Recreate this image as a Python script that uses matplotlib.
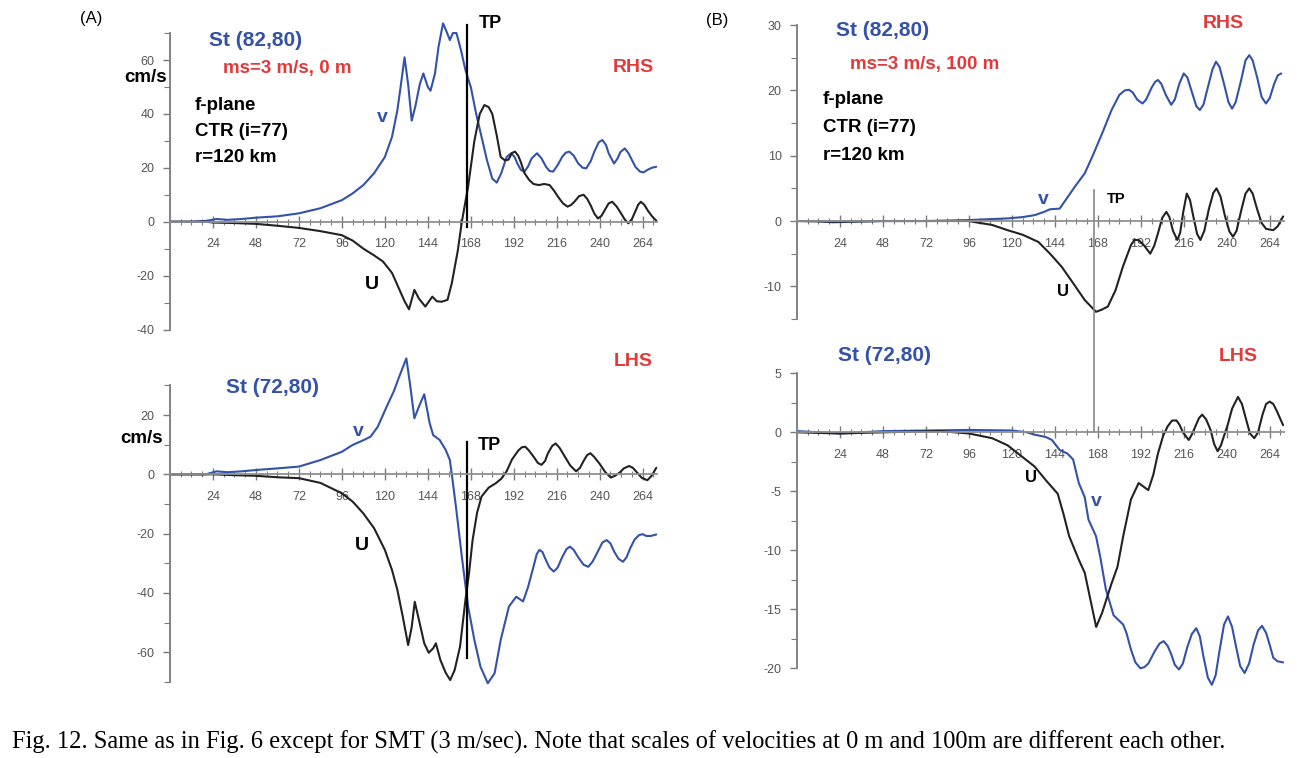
import matplotlib
matplotlib.use("Agg")
import matplotlib.pyplot as plt
from matplotlib.ticker import FixedLocator

plt.rcParams['font.family'] = ['Liberation Sans', 'DejaVu Sans']
plt.rcParams['axes.unicode_minus'] = False

# ---- data (hours, cm/s) ----
# (A) 0 m, RHS  St(82,80)
a_rhs_v_t = [0, 12, 20, 26, 32, 40, 48, 60, 72, 84, 96, 102, 108, 114, 120, 124, 127, 129, 131, 133,
             135, 137, 139.5, 141.5, 144, 145.5, 148, 150, 152.5, 154.5, 156.3, 158, 160, 162.5, 165,
             168, 171, 174, 177, 180, 182.5, 185, 188, 190.5, 192.5, 194, 196, 198, 200, 202, 205,
             207.5, 210, 212, 214, 216.5, 219, 221, 223, 225.5, 228, 230.5, 232.5, 235, 237, 239.5,
             241.5, 243.5, 245, 248, 250, 251.5, 254, 256, 258, 260, 262.5, 264.5, 266.6, 269, 271.6]
a_rhs_v = [0, 0, 0.3, 1, 0.7, 1, 1.5, 2, 3.1, 5, 8, 10.5, 13.6, 18, 24, 31.5, 41.4, 51, 61, 51,
           37.5, 42.7, 51, 55, 50, 48.6, 55, 65, 73.6, 70.5, 67.4, 70, 70, 63.7, 56.3,
           50, 40, 31.5, 22.9, 16, 14.5, 18, 24, 25.4, 24, 21.6, 19.2, 18.6, 20.5, 23.5, 25.4,
           23.5, 20.4, 18.8, 18.6, 21, 24, 25.6, 26, 24.5, 21.6, 20, 19.8, 22.5, 26, 29.5,
           30.3, 28.5, 25.4, 21.6, 23.5, 25.8, 27.2, 25.5, 22.9, 20.3, 18.6, 18.3, 19.2, 20, 20.4]
a_rhs_u_t = [0, 20, 24, 36, 48, 60, 72, 84, 96, 102, 108, 114, 119, 124, 128, 131, 133.5, 136.5, 139,
             142.6, 146.5, 149, 151.7, 155, 157.4, 160.8, 163, 166.5, 170, 173, 175.6, 178, 180,
             182.5, 184.7, 187, 189, 191, 192.7, 194.5, 196, 198, 200.6, 203, 206, 209, 212, 214.5,
             217, 219.5, 222, 224, 226, 228.5, 231, 233, 235, 237, 239, 241, 243, 245, 247, 249.5,
             252, 254, 256, 258, 260, 261.5, 263, 265, 267, 269.5, 271.6]
a_rhs_u = [0, 0, -0.3, -0.5, -0.8, -1.5, -2.3, -3.5, -5, -7, -10, -12.5, -14.8, -19, -25, -29.5, -32.5,
           -25.3, -28.5, -31.5, -27.8, -29.5, -29.7, -29, -22.8, -10.5, 0, 13, 30, 40, 43.3, 42.5,
           40, 32, 24, 22.8, 23, 25.5, 26, 24.5, 22, 18, 15.5, 14, 13.6, 14, 13.6, 11.5,
           9, 6.8, 5.6, 6.2, 7.5, 9.5, 10, 8.5, 6, 3, 1.2, 2.2, 4.5, 6.8, 7.4, 5.6,
           3, 0.8, -0.6, 1, 4, 6.3, 7.4, 6.2, 4, 1.8, 0.4]

# (A) 0 m, LHS  St(72,80)
a_lhs_v_t = [0, 20, 26, 32, 40, 48, 60, 72, 84, 96, 102, 108, 112, 116, 121, 125, 128, 132, 134,
             136.5, 139, 142, 145, 147, 150.6, 154, 156.3, 157.4, 159.7, 163, 166.5, 170, 173.4,
             177.5, 181.3, 184.7, 189.3, 193.4, 197.2, 200, 203, 204.8, 206.3, 208, 210, 212, 214.3,
             216.5, 219, 221.5, 223.4, 225.5, 228, 231, 233.6, 236, 239, 241.5, 243.9, 246, 248,
             250.5, 253, 255, 257, 259.5, 262, 264, 266, 268.5, 271.6]
a_lhs_v = [0, 0, 1, 0.7, 1, 1.45, 2, 2.6, 4.8, 7.6, 9.9, 11.5, 12.7, 16, 22.8, 28, 32.9, 39.1, 30.7,
           18.9, 22.8, 27, 17.3, 13.2, 11.6, 8.2, 4.8, 0, -10.9, -27.8, -44.6, -55.9, -64.9,
           -70.5, -67.1, -55.9, -44.6, -41.3, -42.9, -38, -31.2, -27, -25.5, -26.2, -29, -31.5, -32.8,
           -31.5, -28, -25.2, -24.4, -25.5, -28, -30.5, -31.2, -29.5, -26, -23, -22.2, -23.3, -26,
           -28.5, -29.5, -28, -25, -22, -20.5, -20.2, -20.8, -20.8, -20.3]
a_lhs_u_t = [0, 24, 36, 48, 60, 72, 84, 96, 102, 108, 114, 120, 124, 127, 130, 133, 135, 136.7, 139,
             142, 144.5, 147, 148.5, 151, 154, 156.5, 159, 162, 165, 167, 169, 171.5, 174, 178,
             182, 185, 188, 191, 194.5, 196.5, 198.4, 200.5, 203, 205.5, 207.5, 209.5, 211, 213.5,
             215.4, 217.5, 220, 223.5, 226.8, 229, 231, 233, 234.8, 237, 240, 243, 246.2, 248.5,
             251, 253.5, 256.4, 258.5, 261, 263.5, 266.6, 269, 271.6]
a_lhs_u = [0, 0, -0.3, -0.5, -1, -1.3, -2.9, -6.4, -9.2, -13.2, -18.2, -25.5, -32.3, -39, -48, -57.6,
           -51.5, -43, -49, -57, -60.2, -58.7, -57, -62.6, -67, -69.4, -66, -58.1, -42.4, -33.4,
           -22.2, -13, -7.5, -4.5, -3, -1.5, 1, 5, 8, 9.1, 9.3, 8, 6, 3.8, 3.2, 4.5, 7, 9.6,
           10.4, 9, 6.5, 3, 1, 2.2, 4.5, 6.5, 7.1, 5.8, 3.5, 0.8, -1.1, -0.5,
           0.5, 2, 2.8, 2.2, 0.5, -1.2, -2, -0.5, 2.2]

# (B) 100 m, RHS  St(82,80)
b_rhs_v_t = [0, 12, 20, 30, 48, 72, 96, 109, 117.6, 126, 132.7, 138, 141.3, 146.7, 150, 155.3, 160.7,
             165, 170.4, 175.7, 180, 183, 185.4, 187.5, 190, 193, 195, 198, 200, 201.6, 203.5, 206,
             209, 211, 213.5, 216, 218, 220.5, 223, 225, 227, 229.5, 232, 234, 236, 238.5, 241, 243,
             245, 248, 250.5, 252.6, 254.5, 257, 259.5, 261.9, 264, 266.5, 268.5, 270.5]
b_rhs_v = [0, 0, -0.2, -0.1, 0, 0, 0.15, 0.3, 0.4, 0.6, 0.9, 1.4, 1.8, 1.9, 3.2, 5.3, 7.3,
           9.9, 13.4, 17, 19.3, 20, 20.1, 19.7, 18.6, 18, 18.6, 20.4, 21.3, 21.6, 21, 19.3,
           17.8, 18.6, 21, 22.6, 22, 19.8, 17.6, 17, 17.8, 20.5, 23.2, 24.4, 23.6, 21, 18.2, 17.2,
           18.2, 21.5, 24.6, 25.4, 24.6, 22, 19, 18, 18.8, 21, 22.3, 22.6]
b_rhs_u_t = [0, 20, 48, 96, 100, 109, 117.6, 126, 134.8, 141.3, 147.8, 154.2, 160.7, 167, 170, 173.6,
             177.9, 182, 186.5, 188.5, 190.8, 194, 197.3, 199.5, 201.6, 204, 206.3, 208, 210, 212.4,
             214, 215.8, 217.7, 219.5, 221.5, 223.5, 225.3, 227.5, 230, 232.5, 234.3, 236.5, 239,
             241.5, 243.5, 245.5, 248, 250.5, 252.6, 254.5, 257, 259.5, 262, 266, 268.5, 271.5]
b_rhs_u = [0, -0.1, 0, 0, -0.2, -0.6, -1.4, -2.1, -3.2, -5, -7, -9.5, -12.1, -13.9, -13.6, -13.1,
           -10.6, -7, -3.7, -2.9, -2.9, -3.8, -5, -3.8, -1.9, 0.5, 1.4, 0.6, -1.5, -2.9,
           -1.8, 1.5, 4.2, 3.2, 0.5, -2, -2.9, -1.5, 1.8, 4.3, 5, 3.8, 0.8,
           -1.6, -2.4, -1.5, 1.5, 4.2, 5, 4.2, 1.8, -0.3, -1.2, -1.4, -0.8, 0.7]

# (B) 100 m, LHS  St(72,80)
b_lhs_v_t = [0, 24, 48, 96, 120, 128.4, 132.7, 139, 142.4, 146.7, 151, 154.2, 157.4, 160.7, 162.8,
             167, 169.3, 172.5, 176.8, 182.2, 184, 186.5, 189, 191.8, 194, 196.2, 200, 202.5, 204.8,
             207, 209, 211, 213.4, 215.5, 218, 220.5, 223, 225, 227, 229.5, 231.7, 233.8, 236,
             238.5, 240.7, 243, 245, 247.5, 250, 252.5, 255, 257.5, 259.7, 262, 264, 266, 268.3, 271.5]
b_lhs_v = [0.1, -0.1, 0.1, 0.2, 0.15, 0, -0.2, -0.4, -0.65, -1.5, -1.8, -2.3, -4.3, -5.5, -7.4,
           -8.8, -10.5, -13.3, -15.5, -16.3, -17, -18.4, -19.5, -20, -19.9, -19.6, -18.5, -17.9, -17.7,
           -18.1, -18.8, -19.7, -20.1, -19.6, -18.2, -17.1, -16.6, -17.3, -19, -20.8, -21.4, -20.6, -18.5,
           -16.3, -15.6, -16.5, -18, -19.8, -20.4, -19.6, -18, -16.8, -16.4, -17, -18, -19.1, -19.4, -19.5]
b_lhs_u_t = [0, 24, 48, 80, 96, 109, 117.6, 126, 132.7, 139.2, 145.6, 148.8, 152, 157.4, 160.7, 163.9,
             167.1, 170.4, 175.7, 179, 182.2, 186.5, 190.8, 193.5, 196.2, 199, 201.6, 204.5, 207,
             209.5, 212, 213.8, 215.5, 218.8, 220.5, 222.5, 224.5, 226.3, 228.5, 231, 233, 234.9,
             236.8, 238.5, 240.5, 243, 246.3, 248.5, 251, 253, 255.4, 257.5, 260, 262, 264, 266,
             268, 271.5]
b_lhs_u = [0, -0.1, 0, 0.1, -0.1, -0.5, -1.1, -2.1, -2.9, -4.1, -5.2, -6.9, -8.8, -10.8, -11.9, -14.2,
           -16.5, -15.3, -12.8, -11.4, -8.8, -5.7, -4.3, -4.6, -4.9, -3.6, -1.8, -0.3, 0.5,
           1, 1, 0.6, 0, -0.65, -0.2, 0.5, 1.2, 1.5, 1.1, 0.2, -1, -1.6,
           -1.1, -0.3, 0.6, 2, 3, 2.4, 1, -0.1, -0.5, 0, 1.5, 2.4, 2.6, 2.4,
           1.8, 0.6]

tp_hour = 166
x_major = [24, 48, 72, 96, 120, 144, 168, 192, 216, 240, 264]
caption = ("Fig. 12. Same as in Fig. 6 except for SMT (3 m/sec). Note that scales of velocities "
           "at 0 m and 100m are different each other.")

BLUE = '#3352a8'
RED = '#e23a3a'
GRAY = '#7a7a7a'
W, H = 1301, 758

fig = plt.figure(figsize=(W / 100, H / 100), dpi=100)


def make_ax(xl, xr, yt, yb, ylim, spine, major, minor):
    ax = fig.add_axes([xl / W, 1 - yb / H, (xr - xl) / W, (yb - yt) / H])
    ax.set_xlim(0, 272)
    ax.set_ylim(*ylim)
    ax.patch.set_alpha(0)
    for s in ['top', 'right']:
        ax.spines[s].set_visible(False)
    ax.spines['left'].set_bounds(*spine)
    ax.spines['left'].set_color(GRAY)
    ax.spines['left'].set_linewidth(1.3)
    ax.spines['bottom'].set_position(('data', 0))
    ax.spines['bottom'].set_bounds(0, 272)
    ax.spines['bottom'].set_color('#909090')
    ax.spines['bottom'].set_linewidth(1.3)
    ax.xaxis.set_major_locator(FixedLocator(x_major))
    ax.xaxis.set_minor_locator(FixedLocator(list(range(6, 272, 6))))
    ax.yaxis.set_major_locator(FixedLocator(major))
    ax.yaxis.set_minor_locator(FixedLocator(minor))
    ax.tick_params(axis='x', which='major', direction='inout', length=8, width=1,
                   color=GRAY, labelsize=9, labelcolor='#555555', pad=8)
    ax.tick_params(axis='x', which='minor', direction='inout', length=4, width=0.8, color=GRAY)
    ax.tick_params(axis='y', which='major', direction='out', length=5, width=1,
                   color=GRAY, labelsize=9, labelcolor='#555555', pad=6)
    ax.tick_params(axis='y', which='minor', direction='out', length=4, width=0.8, color=GRAY)
    return ax


axA1 = make_ax(170, 657, 11.5, 334.9, (-42, 78), (-40, 70),
               [-40, -20, 0, 20, 40, 60], [-30, -10, 10, 30, 50, 70])
axA2 = make_ax(170, 657, 349.8, 690.7, (-73, 42), (-70, 30),
               [-60, -40, -20, 0, 20], [-70, -50, -30, -10, 10, 30])
axB1 = make_ax(797, 1284, 18.6, 325.5, (-16, 31), (-15, 30),
               [-10, 0, 10, 20, 30], [-15, -5, 5, 15, 25])
axB2 = make_ax(797, 1284, 367.4, 691.9, (-22, 5.5), (-20, 5),
               [-20, -15, -10, -5, 0, 5], [-17.5, -12.5, -7.5, -2.5, 2.5])

line_kw = dict(lw=1.5, clip_on=False, solid_joinstyle='round', solid_capstyle='round')
axA1.plot(a_rhs_v_t, a_rhs_v, color=BLUE, **line_kw)
axA1.plot(a_rhs_u_t, a_rhs_u, color='#222222', **line_kw)
axA2.plot(a_lhs_v_t, a_lhs_v, color=BLUE, **line_kw)
axA2.plot(a_lhs_u_t, a_lhs_u, color='#222222', **line_kw)
axB1.plot(b_rhs_v_t, b_rhs_v, color=BLUE, **line_kw)
axB1.plot(b_rhs_u_t, b_rhs_u, color='#222222', **line_kw)
axB2.plot(b_lhs_v_t, b_lhs_v, color=BLUE, **line_kw)
axB2.plot(b_lhs_u_t, b_lhs_u, color='#222222', **line_kw)

# turning point lines
axA1.plot([tp_hour, tp_hour], [-2, 73], color='black', lw=1.6, clip_on=False)
axA2.plot([tp_hour, tp_hour], [-62, 10.9], color='black', lw=1.6, clip_on=False)
y_disp = axB2.transData.transform((tp_hour, 0))[1]
y_low = axB1.transData.inverted().transform((0, y_disp))[1]
axB1.plot([tp_hour, tp_hour], [y_low, 4.7], color='#888888', lw=1.2, clip_on=False)


def ftext(x, y, s, **kw):
    kw.setdefault('fontweight', 'bold')
    kw.setdefault('va', 'center')
    fig.text(x / W, 1 - y / H, s, **kw)


# panel A texts
ftext(91, 18, '(A)', fontweight='normal', fontsize=12, ha='center')
ftext(256, 40, 'St (82,80)', color=BLUE, fontsize=15, ha='center')
ftext(287, 68, 'ms=3 m/s, 0 m', color=RED, fontsize=13.5, ha='center')
ftext(195, 105, 'f-plane', fontsize=13.5, ha='left')
ftext(195, 132, 'CTR (i=77)', fontsize=13.5, ha='left')
ftext(195, 158, 'r=120 km', fontsize=13.5, ha='left')
ftext(167, 78, 'cm/s', fontsize=13.5, ha='right')
ftext(633, 67, 'RHS', color=RED, fontsize=14, ha='center')
ftext(382, 118, 'v', color=BLUE, fontsize=14, ha='center')
ftext(490, 24, 'TP', fontsize=13, ha='center')
ftext(372, 285, 'U', fontsize=14, ha='center')

ftext(633, 362, 'LHS', color=RED, fontsize=14, ha='center')
ftext(273, 387, 'St (72,80)', color=BLUE, fontsize=15, ha='center')
ftext(358, 431, 'v', color=BLUE, fontsize=14, ha='center')
ftext(163, 438, 'cm/s', fontsize=13.5, ha='right')
ftext(489, 446, 'TP', fontsize=13, ha='center')
ftext(362, 546, 'U', fontsize=14, ha='center')

# panel B texts
ftext(717, 20, '(B)', fontweight='normal', fontsize=12, ha='center')
ftext(883, 31, 'St (82,80)', color=BLUE, fontsize=15, ha='center')
ftext(925, 64, 'ms=3 m/s, 100 m', color=RED, fontsize=13.5, ha='center')
ftext(823, 100, 'f-plane', fontsize=13.5, ha='left')
ftext(823, 128, 'CTR (i=77)', fontsize=13.5, ha='left')
ftext(823, 155, 'r=120 km', fontsize=13.5, ha='left')
ftext(1223, 24, 'RHS', color=RED, fontsize=14, ha='center')
ftext(1043, 199, 'v', color=BLUE, fontsize=14, ha='center')
ftext(1116, 199, 'TP', fontsize=10.5, ha='center')
ftext(1063, 292, 'U', fontsize=12, ha='center')

ftext(885, 356, 'St (72,80)', color=BLUE, fontsize=15, ha='center')
ftext(1238, 357, 'LHS', color=RED, fontsize=14, ha='center')
ftext(1031, 478, 'U', fontsize=12, ha='center')
ftext(1096, 502, 'v', color=BLUE, fontsize=14, ha='center')

ftext(12, 742, caption, fontweight='normal', family='Liberation Serif', fontsize=17.65, ha='left')

fig.savefig('out.png', dpi=100)
